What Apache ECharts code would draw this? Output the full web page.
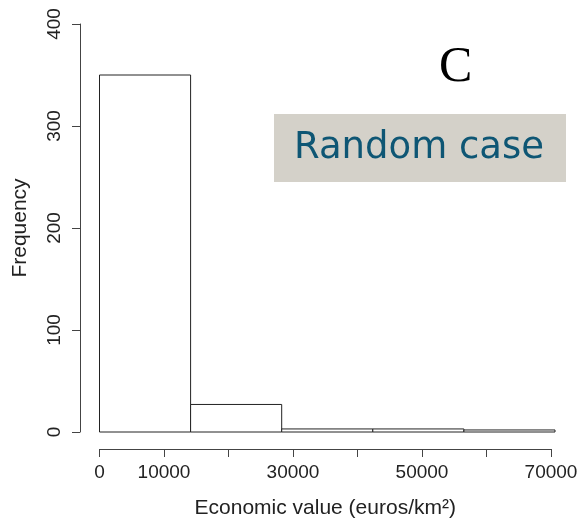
<!DOCTYPE html>
<html>
<head>
<meta charset="utf-8">
<script src="https://cdn.jsdelivr.net/npm/echarts@6/dist/echarts.min.js"></script>
<style>
html,body{margin:0;padding:0;background:#fff;}
#chart{width:586px;height:524px;}
</style>
</head>
<body>
<div id="chart"></div>
<script>
// Histogram bins (euros/km²) and frequencies
var binStart = [0, 14120, 28240, 42360, 56480];
var binEnd = [14120, 28240, 42360, 56480, 70600];
var counts = [350, 27, 3, 3, 2];
var xTicks = [0, 10000, 20000, 30000, 40000, 50000, 60000, 70000];
var xTickLabels = ['0', '10000', '', '30000', '', '50000', '', '70000'];
var yTicks = [0, 100, 200, 300, 400];

var data = binStart.map(function (s, i) { return [s, binEnd[i], counts[i]]; });

var chart = echarts.init(document.getElementById('chart'), null, {renderer: 'canvas'});
var axisColor = '#444';
var textColor = '#222';
var font = 'Liberation Sans, Arial, sans-serif';

chart.setOption({
  animation: false,
  grid: [
    {left: 99.5, width: 455.5, top: 24, height: 408, containLabel: false, outerBoundsMode: 'none'},
    {left: 99.5, width: 451.5, top: 24, height: 408, containLabel: false, outerBoundsMode: 'none'}
  ],
  xAxis: [
    {gridIndex: 0, type: 'value', min: 0, max: binEnd[binEnd.length - 1], show: false},
    {
      gridIndex: 1, type: 'value', min: xTicks[0], max: xTicks[xTicks.length - 1], interval: 10000,
      offset: 17,
      axisLine: {show: true, onZero: false, lineStyle: {color: axisColor, width: 1}},
      axisTick: {show: true, length: 8, lineStyle: {color: axisColor}},
      splitLine: {show: false},
      axisLabel: {
        color: textColor, fontSize: 19, fontFamily: font, margin: 14, showMinLabel: true, showMaxLabel: true,
        formatter: function (v) { var i = xTicks.indexOf(v); return i >= 0 ? xTickLabels[i] : ''; }
      },
      name: 'Economic value (euros/km²)', nameLocation: 'middle', nameGap: 49,
      nameTextStyle: {color: textColor, fontSize: 21, fontFamily: font}
    }
  ],
  yAxis: [
    {
      gridIndex: 0, type: 'value', min: yTicks[0], max: yTicks[yTicks.length - 1], interval: 100,
      offset: 19.5,
      axisLine: {show: true, onZero: false, lineStyle: {color: axisColor, width: 1}},
      axisTick: {show: true, length: 8, lineStyle: {color: axisColor}},
      splitLine: {show: false},
      axisLabel: {color: textColor, fontSize: 19, fontFamily: font, rotate: 90, margin: 16},
      name: 'Frequency', nameLocation: 'middle', nameGap: 49, nameRotate: 90,
      nameTextStyle: {color: textColor, fontSize: 21, fontFamily: font}
    },
    {gridIndex: 1, type: 'value', min: 0, max: 400, show: false}
  ],
  series: [{
    type: 'custom',
    xAxisIndex: 0, yAxisIndex: 0,
    data: data,
    encode: {x: [0, 1], y: 2},
    renderItem: function (params, api) {
      var p0 = api.coord([api.value(0), api.value(2)]);
      var p1 = api.coord([api.value(1), 0]);
      return {
        type: 'rect',
        shape: {x: p0[0], y: p0[1], width: p1[0] - p0[0], height: p1[1] - p0[1]},
        style: {fill: '#fff', stroke: '#222', lineWidth: 1}
      };
    }
  }],
  graphic: [
    {type: 'text', left: 439, top: 43, style: {text: 'C', font: '50px "Liberation Serif", "Times New Roman", serif', fill: '#000'}},
    {type: 'rect', shape: {x: 274, y: 114, width: 292, height: 68}, style: {fill: '#d4d1c9'}},
    {type: 'text', x: 419, y: 148, style: {text: 'Random case', font: '37px "DejaVu Sans", Verdana, sans-serif', fill: '#0e5674', textAlign: 'center', textVerticalAlign: 'middle'}}
  ]
});
</script>
</body>
</html>
